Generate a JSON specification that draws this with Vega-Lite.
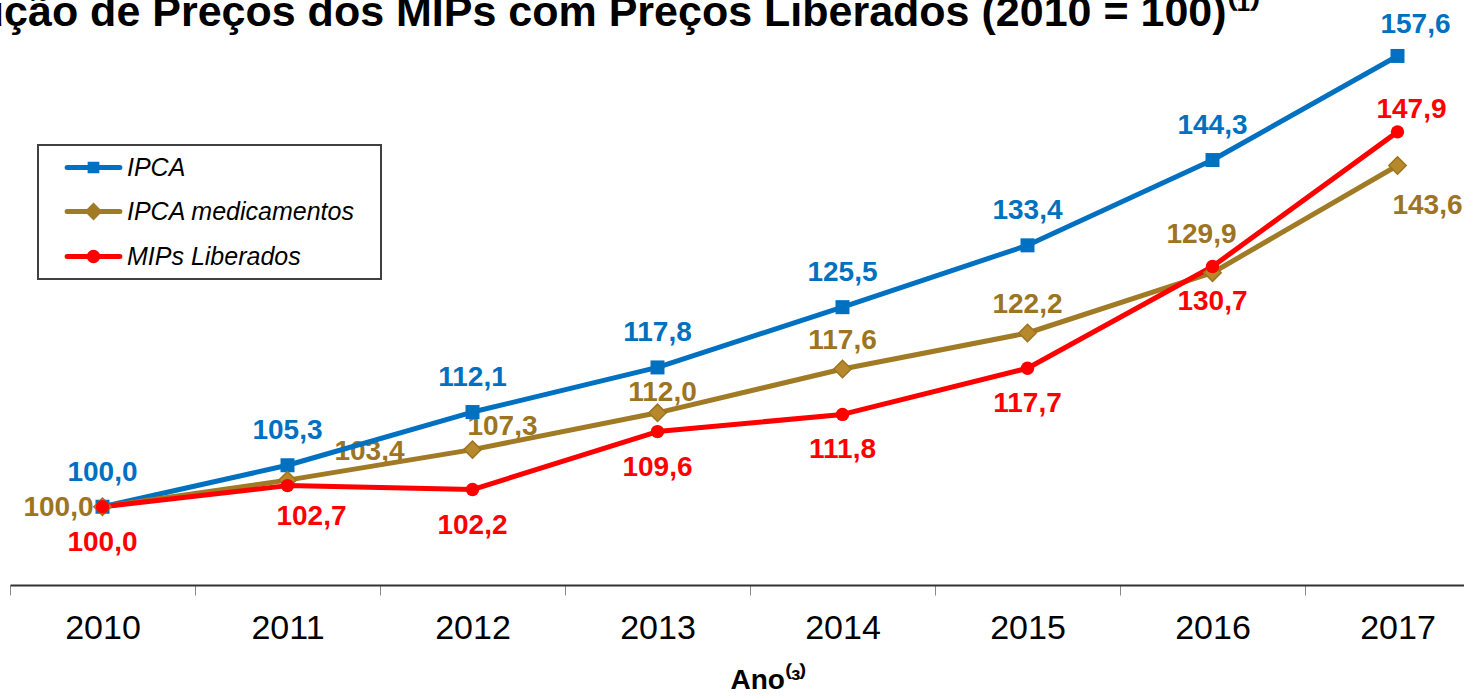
{
  "$schema": "https://vega.github.io/schema/vega-lite/v6.json",
  "autosize": "none",
  "width": 1454,
  "height": 585,
  "padding": {"left": 10, "top": 0, "right": 0, "bottom": 113},
  "background": "white",
  "title": {
    "text": "Evolução de Preços dos MIPs com Preços Liberados (2010 = 100)⁽¹⁾",
    "anchor": "start",
    "frame": "group",
    "font": "Liberation Sans",
    "fontSize": 43,
    "fontWeight": "bold",
    "color": "black",
    "baseline": "alphabetic",
    "offset": 0,
    "dx": -123,
    "dy": 69
  },
  "config": {
    "view": {"stroke": null},
    "locale": {"number": {"decimal": ",", "thousands": ".", "grouping": [3], "currency": ["R$", ""]}},
    "text": {"font": "Liberation Sans", "fontSize": 28, "fontWeight": "bold", "baseline": "middle", "align": "center"}
  },
  "data": {
    "values": [
      {"ano": "2010", "serie": "IPCA", "valor": 100.0},
      {"ano": "2011", "serie": "IPCA", "valor": 105.3},
      {"ano": "2012", "serie": "IPCA", "valor": 112.1},
      {"ano": "2013", "serie": "IPCA", "valor": 117.8},
      {"ano": "2014", "serie": "IPCA", "valor": 125.5},
      {"ano": "2015", "serie": "IPCA", "valor": 133.4},
      {"ano": "2016", "serie": "IPCA", "valor": 144.3},
      {"ano": "2017", "serie": "IPCA", "valor": 157.6},
      {"ano": "2010", "serie": "IPCA medicamentos", "valor": 100.0},
      {"ano": "2011", "serie": "IPCA medicamentos", "valor": 103.4},
      {"ano": "2012", "serie": "IPCA medicamentos", "valor": 107.3},
      {"ano": "2013", "serie": "IPCA medicamentos", "valor": 112.0},
      {"ano": "2014", "serie": "IPCA medicamentos", "valor": 117.6},
      {"ano": "2015", "serie": "IPCA medicamentos", "valor": 122.2},
      {"ano": "2016", "serie": "IPCA medicamentos", "valor": 129.9},
      {"ano": "2017", "serie": "IPCA medicamentos", "valor": 143.6},
      {"ano": "2010", "serie": "MIPs Liberados", "valor": 100.0},
      {"ano": "2011", "serie": "MIPs Liberados", "valor": 102.7},
      {"ano": "2012", "serie": "MIPs Liberados", "valor": 102.2},
      {"ano": "2013", "serie": "MIPs Liberados", "valor": 109.6},
      {"ano": "2014", "serie": "MIPs Liberados", "valor": 111.8},
      {"ano": "2015", "serie": "MIPs Liberados", "valor": 117.7},
      {"ano": "2016", "serie": "MIPs Liberados", "valor": 130.7},
      {"ano": "2017", "serie": "MIPs Liberados", "valor": 147.9}
    ]
  },
  "encoding": {
    "x": {
      "field": "ano",
      "type": "ordinal",
      "scale": {"type": "band", "range": [0, 1480], "paddingInner": 0, "paddingOuter": 0},
      "axis": {
        "title": "Ano⁽³⁾",
        "titleFont": "Liberation Sans",
        "titleFontSize": 28,
        "titleFontWeight": "bold",
        "titleColor": "black",
        "titleAlign": "left",
        "titleBaseline": "alphabetic",
        "titleX": 720,
        "titleY": 103,
        "labelFont": "Liberation Sans",
        "labelFontSize": 34,
        "labelColor": "black",
        "labelAngle": 0,
        "labelPadding": 16,
        "tickBand": "extent",
        "tickSize": 10,
        "tickColor": "#888888",
        "tickWidth": 1,
        "domainColor": "#333333",
        "domainWidth": 2,
        "grid": false
      }
    },
    "y": {
      "field": "valor",
      "type": "quantitative",
      "scale": {"domain": [90, 164.75], "nice": false, "zero": false},
      "axis": null
    }
  },
  "layer": [
    {
      "transform": [{"filter": "datum.serie === 'IPCA' && datum.ano !== '2017'"}],
      "mark": {"type": "text", "dy": -34, "color": "#0070C0"},
      "encoding": {"text": {"field": "valor", "type": "quantitative", "format": ".1f"}}
    },
    {
      "transform": [{"filter": "datum.serie === 'IPCA' && datum.ano === '2017'"}],
      "mark": {"type": "text", "dx": 18, "dy": -31, "color": "#0070C0"},
      "encoding": {"text": {"field": "valor", "type": "quantitative", "format": ".1f"}}
    },
    {
      "transform": [{"filter": "datum.serie === 'IPCA medicamentos' && datum.ano === '2010'"}],
      "mark": {"type": "text", "dx": -44, "dy": 1, "color": "#9C7422"},
      "encoding": {"text": {"field": "valor", "type": "quantitative", "format": ".1f"}}
    },
    {
      "transform": [{"filter": "datum.serie === 'IPCA medicamentos' && datum.ano === '2011'"}],
      "mark": {"type": "text", "dx": 82, "dy": -28, "color": "#9C7422"},
      "encoding": {"text": {"field": "valor", "type": "quantitative", "format": ".1f"}}
    },
    {
      "transform": [{"filter": "datum.serie === 'IPCA medicamentos' && datum.ano === '2012'"}],
      "mark": {"type": "text", "dx": 30, "dy": -23, "color": "#9C7422"},
      "encoding": {"text": {"field": "valor", "type": "quantitative", "format": ".1f"}}
    },
    {
      "transform": [{"filter": "datum.serie === 'IPCA medicamentos' && datum.ano === '2013'"}],
      "mark": {"type": "text", "dx": 5, "dy": -20, "color": "#9C7422"},
      "encoding": {"text": {"field": "valor", "type": "quantitative", "format": ".1f"}}
    },
    {
      "transform": [{"filter": "datum.serie === 'IPCA medicamentos' && (datum.ano === '2014' || datum.ano === '2015')"}],
      "mark": {"type": "text", "dy": -28, "color": "#9C7422"},
      "encoding": {"text": {"field": "valor", "type": "quantitative", "format": ".1f"}}
    },
    {
      "transform": [{"filter": "datum.serie === 'IPCA medicamentos' && datum.ano === '2016'"}],
      "mark": {"type": "text", "dx": -11, "dy": -38, "color": "#9C7422"},
      "encoding": {"text": {"field": "valor", "type": "quantitative", "format": ".1f"}}
    },
    {
      "transform": [{"filter": "datum.serie === 'IPCA medicamentos' && datum.ano === '2017'"}],
      "mark": {"type": "text", "dx": 30, "dy": 40, "color": "#9C7422"},
      "encoding": {"text": {"field": "valor", "type": "quantitative", "format": ".1f"}}
    },
    {
      "transform": [{"filter": "datum.serie === 'MIPs Liberados' && datum.ano !== '2011' && datum.ano !== '2017'"}],
      "mark": {"type": "text", "dy": 36, "color": "#FF0000"},
      "encoding": {"text": {"field": "valor", "type": "quantitative", "format": ".1f"}}
    },
    {
      "transform": [{"filter": "datum.serie === 'MIPs Liberados' && datum.ano === '2011'"}],
      "mark": {"type": "text", "dx": 24, "dy": 31, "color": "#FF0000"},
      "encoding": {"text": {"field": "valor", "type": "quantitative", "format": ".1f"}}
    },
    {
      "transform": [{"filter": "datum.serie === 'MIPs Liberados' && datum.ano === '2017'"}],
      "mark": {"type": "text", "dx": 14, "dy": -22, "color": "#FF0000"},
      "encoding": {"text": {"field": "valor", "type": "quantitative", "format": ".1f"}}
    },
    {
      "mark": {"type": "line", "strokeWidth": 5, "strokeJoin": "round", "strokeCap": "round"},
      "encoding": {
        "color": {
          "field": "serie",
          "type": "nominal",
          "scale": {"domain": ["IPCA", "IPCA medicamentos", "MIPs Liberados"], "range": ["#0070C0", "#A07A24", "#FF0000"]},
          "legend": {
            "orient": "none",
            "legendX": 28,
            "legendY": 145,
            "title": null,
            "padding": 8,
            "fillColor": "white",
            "strokeColor": "#404040",
            "labelFont": "Liberation Sans",
            "labelFontSize": 25,
            "labelFontStyle": "italic",
            "labelColor": "black",
            "labelLimit": 500,
            "labelExpr": "datum.label + '\u2800'",
            "symbolSize": 576,
            "symbolStrokeWidth": 5,
            "symbolOffset": 33,
            "labelOffset": 19,
            "rowPadding": 15,
            "encode": {
              "legend": {"update": {"strokeWidth": {"value": 2}}},
              "symbols": {
                "update": {
                  "shape": {"signal": "datum.value === 'IPCA' ? 'M-2.2,0H2.2M-0.28,-0.28H0.28V0.28H-0.28Z' : (datum.value === 'IPCA medicamentos' ? 'M-2.2,0H2.2M0,-0.45L0.45,0L0,0.45L-0.45,0Z' : 'M-2.2,0H2.2M-0.35,0A0.35,0.35,0,1,0,0.35,0A0.35,0.35,0,1,0,-0.35,0Z')"},
                  "fill": {"scale": "color", "field": "value"},
                  "stroke": {"scale": "color", "field": "value"},
                  "strokeCap": {"value": "round"},
                  "opacity": {"value": 1}
                }
              }
            }
          }
        }
      }
    },
    {
      "transform": [{"filter": "datum.serie === 'IPCA'"}],
      "mark": {"type": "point", "shape": "square", "filled": true, "size": 196, "color": "#0070C0", "opacity": 1}
    },
    {
      "transform": [{"filter": "datum.serie === 'IPCA medicamentos'"}],
      "mark": {"type": "point", "shape": "diamond", "filled": true, "size": 300, "fill": "#B8882C", "stroke": "#9A7420", "strokeWidth": 1.5, "opacity": 1}
    },
    {
      "transform": [{"filter": "datum.serie === 'MIPs Liberados'"}],
      "mark": {"type": "point", "shape": "circle", "filled": true, "size": 180, "color": "#FF0000", "opacity": 1}
    }
  ]
}
